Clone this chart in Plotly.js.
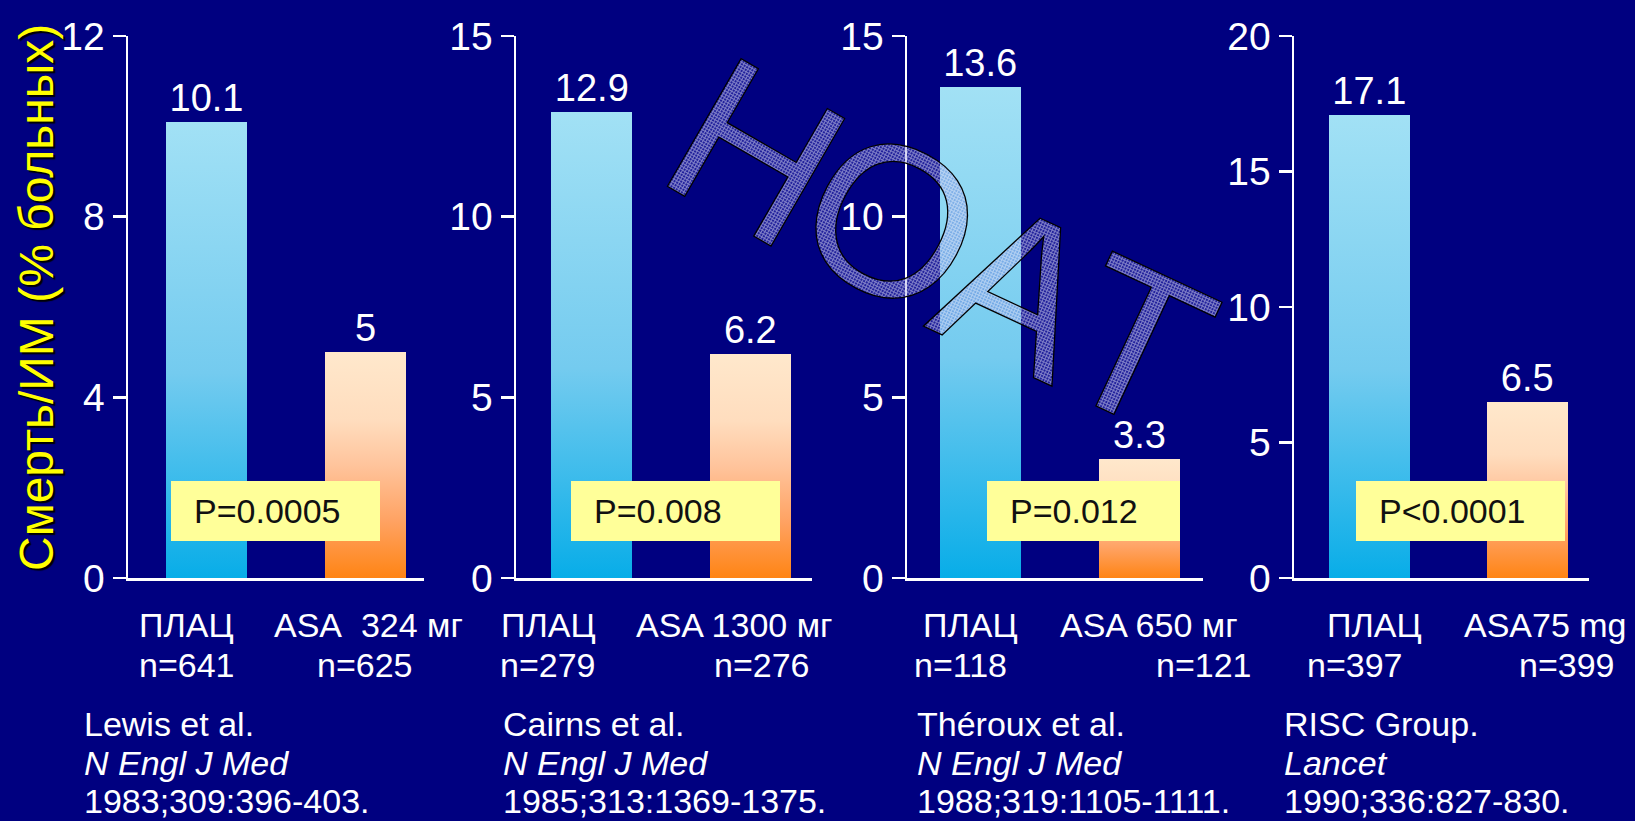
<!DOCTYPE html>
<html><head><meta charset="utf-8">
<script src="https://cdn.plot.ly/plotly-3.0.1.min.js"></script>
<style>html,body{margin:0;padding:0;background:#000080;overflow:hidden}#chart{width:1635px;height:821px}</style>
</head><body><div id="chart"></div>
<script>
// ---------------- DATA ----------------
const categories1 = ['ПЛАЦ', 'ASA  324 мг'];
const categories2 = ['ПЛАЦ', 'ASA 1300 мг'];
const categories3 = ['ПЛАЦ', 'ASA 650 мг'];
const categories4 = ['ПЛАЦ', 'ASA75 mg'];
const values1 = [10.1, 5];
const values2 = [12.9, 6.2];
const values3 = [13.6, 3.3];
const values4 = [17.1, 6.5];
const nLabels1 = ['n=641', 'n=625'];
const nLabels2 = ['n=279', 'n=276'];
const nLabels3 = ['n=118', 'n=121'];
const nLabels4 = ['n=397', 'n=399'];
const pValues = ['P=0.0005', 'P=0.008', 'P=0.012', 'P<0.0001'];
const refAuthors = ['Lewis et al.', 'Cairns et al.', 'Théroux et al.', 'RISC Group.'];
const refJournals = ['N Engl J Med', 'N Engl J Med', 'N Engl J Med', 'Lancet'];
const refCitations = ['1983;309:396-403.', '1985;313:1369-1375.', '1988;319:1105-1111.', '1990;336:827-830.'];
const yMax = [12, 15, 15, 20];
const yTick = [4, 5, 5, 5];
const yTitle = 'Смерть/ИМ (% больных)';
const watermarkLetters = ['Н', 'О', 'А', 'Т'];

// ---------------- LAYOUT (pixel geometry) ----------------
const W = 1635, H = 821;
const px = x => x / W, py = y => 1 - y / H;
const FONT = 'Liberation Sans, Arial, sans-serif';
const cats = [categories1, categories2, categories3, categories4];
const vals = [values1, values2, values3, values4];
const nLabs = [nLabels1, nLabels2, nLabels3, nLabels4];
const axisPx = [[128, 424], [516, 812], [907, 1203], [1294, 1589]];
const xRanges = [[-0.494, 1.368], [-0.478, 1.389], [-0.459, 1.399], [-0.477, 1.391]];
const yDomain = [py(578), py(36)];
const catShift = [[-20, 3], [-43, -16], [-10, 10], [5, 18]];
const nShift = [[-20, -1], [-44, 12], [-20, 65], [-14, 40]];
const refX = [82, 501, 915, 1282];
const pBox = [[171, 380], [571, 780], [987, 1180], [1356, 1565]];
const pTextX = [192, 592, 1008, 1377];
const wmPos = [[756, 152, 30], [892, 220, 28], [1019, 288, 25], [1136, 343, 25]];

const data = [];
const layout = {
  width: W, height: H, autosize: false,
  margin: {l: 0, r: 0, t: 0, b: 0, pad: 0},
  paper_bgcolor: '#000080', plot_bgcolor: 'rgba(0,0,0,0)',
  showlegend: false, font: {family: FONT, color: '#ffffff'},
  annotations: [], shapes: [], bargap: 0
};
for (let i = 0; i < 4; i++) {
  const s = i === 0 ? '' : String(i + 1);
  data.push({
    type: 'bar', x: cats[i], y: vals[i], xaxis: 'x' + s, yaxis: 'y' + s,
    width: 0.51,
    marker: {color: ['#5CC3EE', '#FFB784'], line: {width: 0}},
    text: vals[i].map(v => String(v)), textposition: 'outside',
    textfont: {family: FONT, size: 38, color: '#ffffff'},
    constraintext: 'none', cliponaxis: false, hoverinfo: 'skip'
  });
  layout['xaxis' + s] = {
    domain: [px(axisPx[i][0]), px(axisPx[i][1])], range: xRanges[i], type: 'category',
    anchor: 'y' + s, showline: true, linecolor: '#ffffff', linewidth: 2.5,
    showticklabels: false, ticks: '', showgrid: false, zeroline: false, fixedrange: true
  };
  layout['yaxis' + s] = {
    domain: yDomain, range: [0, yMax[i]], dtick: yTick[i], tick0: 0,
    anchor: 'x' + s, showline: true, linecolor: '#ffffff', linewidth: 2.5,
    ticks: 'outside', ticklen: 13, tickwidth: 2.5, tickcolor: '#ffffff',
    tickfont: {family: FONT, size: 39, color: '#ffffff'},
    showgrid: false, zeroline: false, fixedrange: true
  };
  // category labels (two rows)
  for (let j = 0; j < 2; j++) {
    layout.annotations.push({
      xref: 'x' + s, yref: 'paper', x: j, y: py(624.5), xshift: catShift[i][j],
      text: cats[i][j].replace(/  /g, '\u00a0 '), showarrow: false,
      xanchor: 'center', yanchor: 'middle',
      font: {family: FONT, size: 34, color: '#ffffff'}
    });
    layout.annotations.push({
      xref: 'x' + s, yref: 'paper', x: j, y: py(664.5), xshift: nShift[i][j],
      text: nLabs[i][j], showarrow: false, xanchor: 'center', yanchor: 'middle',
      font: {family: FONT, size: 34, color: '#ffffff'}
    });
  }
  // references
  [[refAuthors[i], 724], ['<i>' + refJournals[i] + '</i>', 763], [refCitations[i], 801]].forEach(([t, y]) => {
    layout.annotations.push({
      xref: 'paper', yref: 'paper', x: px(refX[i]), y: py(y), text: t, showarrow: false,
      xanchor: 'left', yanchor: 'middle', font: {family: FONT, size: 34, color: '#ffffff'}
    });
  });
  // p-value boxes
  layout.shapes.push({
    type: 'rect', xref: 'paper', yref: 'paper', layer: 'above',
    x0: px(pBox[i][0]), x1: px(pBox[i][1]), y0: py(541), y1: py(481),
    fillcolor: '#FFFF99', line: {width: 0}
  });
  layout.annotations.push({
    xref: 'paper', yref: 'paper', x: px(pTextX[i]), y: py(511), text: pValues[i],
    showarrow: false, xanchor: 'left', yanchor: 'middle',
    font: {family: FONT, size: 34, color: '#111111'}
  });
}
// y axis title
layout.annotations.push({
  xref: 'paper', yref: 'paper', x: px(37), y: py(298), text: yTitle, textangle: -90,
  showarrow: false, xanchor: 'center', yanchor: 'middle',
  font: {family: FONT, size: 48, color: '#FFFF00', shadow: '-2px 2px 1px #000000'}
});
// watermark
const wmStart = layout.annotations.length;
watermarkLetters.forEach((L, k) => {
  layout.annotations.push({
    xref: 'paper', yref: 'paper', x: px(wmPos[k][0]), y: py(wmPos[k][1]), text: L,
    textangle: wmPos[k][2], showarrow: false, xanchor: 'center', yanchor: 'middle',
    font: {family: FONT, size: 214, color: 'rgba(110,110,210,0.5)'}
  });
});

Plotly.newPlot('chart', data, layout, {staticPlot: true, displayModeBar: false}).then(gd => {
  const NS = 'http://www.w3.org/2000/svg';
  const svg = gd.querySelector('svg.main-svg');
  const defs = document.createElementNS(NS, 'defs');
  defs.innerHTML =
    '<linearGradient id="gradBlue" x1="0" y1="0" x2="0" y2="1">' +
      '<stop offset="0" stop-color="#A2E1F5"/><stop offset="0.55" stop-color="#74CBEF"/>' +
      '<stop offset="1" stop-color="#08ADE8"/></linearGradient>' +
    '<linearGradient id="gradOrange" x1="0" y1="0" x2="0" y2="1">' +
      '<stop offset="0" stop-color="#FFE8CC"/><stop offset="0.3" stop-color="#FFDDBE"/>' +
      '<stop offset="0.5" stop-color="#FFC49C"/><stop offset="0.75" stop-color="#FFA262"/>' +
      '<stop offset="1" stop-color="#FF8414"/></linearGradient>' +
    '<pattern id="hatch" patternUnits="userSpaceOnUse" width="3" height="3">' +
      '<rect x="0" y="0" width="3" height="3" fill="rgba(100,100,210,0.34)"/>' +
      '<rect x="0" y="0" width="1" height="3" fill="rgba(255,255,255,0.42)"/>' +
      '<rect x="1" y="0" width="2" height="1" fill="rgba(255,255,255,0.42)"/></pattern>';
  svg.insertBefore(defs, svg.firstChild);
  gd.querySelectorAll('.barlayer .trace').forEach(tr => {
    tr.querySelectorAll('.point path').forEach((p, j) => {
      p.style.fill = j === 0 ? 'url(#gradBlue)' : 'url(#gradOrange)';
      p.style.fillOpacity = 1;
    });
  });
  for (let k = 0; k < watermarkLetters.length; k++) {
    const t = gd.querySelector('g.annotation[data-index="' + (wmStart + k) + '"] text.annotation-text');
    if (t) {
      t.style.fill = 'url(#hatch)'; t.style.fillOpacity = 1;
      t.style.stroke = '#000000'; t.style.strokeWidth = '1.3px';
    }
  }
});
</script></body></html>
